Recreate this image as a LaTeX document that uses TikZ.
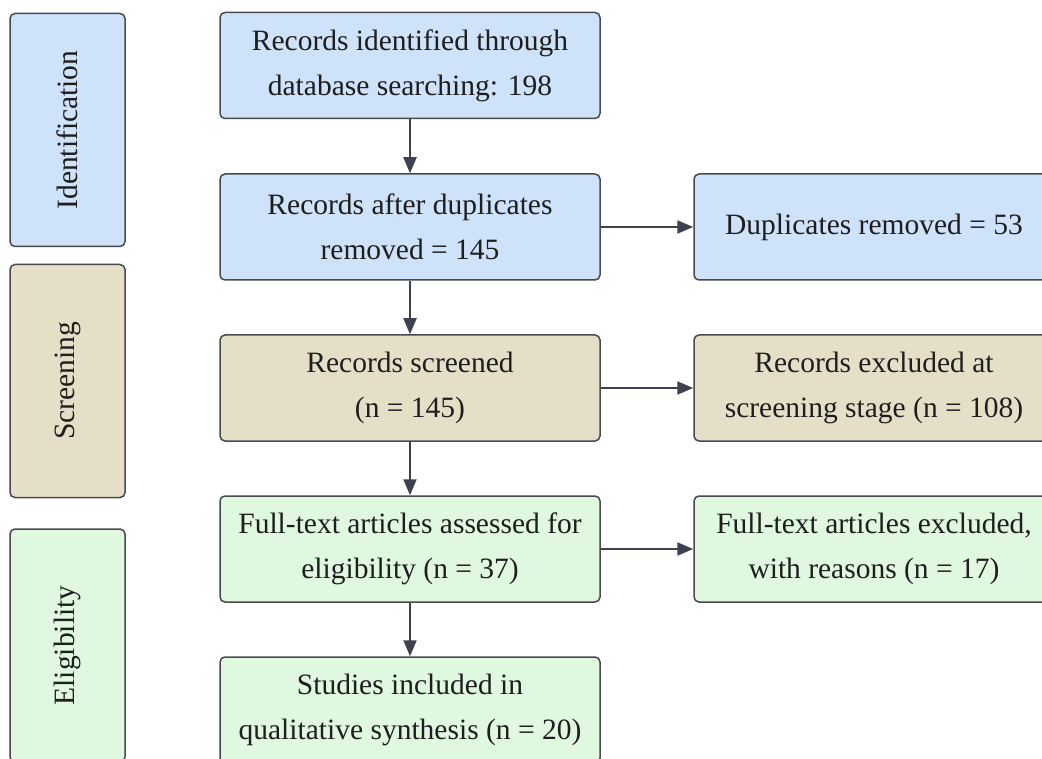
\documentclass[tikz,border=0pt]{standalone}
\usepackage{fontspec}
\setmainfont{Liberation Serif}
\usetikzlibrary{arrows.meta}
\definecolor{idfill}{RGB}{206,226,250}
\definecolor{scfill}{RGB}{230,223,200}
\definecolor{elfill}{RGB}{224,247,224}
\definecolor{boxline}{RGB}{72,74,80}
\definecolor{arrowcol}{RGB}{62,66,80}
\definecolor{txt}{RGB}{30,30,30}
\begin{document}
\begin{tikzpicture}[x=1pt,y=-1pt,
  box/.style={draw=boxline, line width=1.5pt, rounded corners=5pt,
    minimum width=380pt, minimum height=106pt, align=center, inner sep=0pt,
    text=txt, font=\fontsize{29.5}{45}\selectfont},
  sidebox/.style={box, rotate=90, minimum width=233pt, minimum height=115pt},
  rbox/.style={box, minimum width=360pt},
  arr/.style={draw=arrowcol, line width=2pt,
    -{Triangle[length=16pt,width=13pt]}}]
\useasboundingbox (0,0) rectangle (1042,759);
\clip (0,0) rectangle (1042,759);

% phase labels
\node[sidebox, fill=idfill] (sid) at (67.5,130) {Identification};
\node[sidebox, fill=scfill] (ssc) at (67.5,381) {Screening};
\node[sidebox, fill=elfill] (sel) at (67.5,645.5) {Eligibility};

% main column
\node[box, fill=idfill] (b1) at (410,65.5) {Records identified through\\database searching: 198};
\node[box, fill=idfill] (b2) at (410,227) {Records after duplicates\\removed = 145};
\node[box, fill=scfill] (b3) at (410,388) {Records screened\\(n = 145)};
\node[box, fill=elfill] (b4) at (410,549) {Full-text articles assessed for\\eligibility (n = 37)};
\node[box, fill=elfill] (b5) at (410,710) {Studies included in\\qualitative synthesis (n = 20)};

% exclusions
\node[rbox, fill=idfill] (r1) at (874,227) {Duplicates removed = 53};
\node[rbox, fill=scfill] (r2) at (874,388) {Records excluded at\\screening stage (n = 108)};
\node[rbox, fill=elfill] (r3) at (874,549) {Full-text articles excluded,\\with reasons (n = 17)};

% connectors
\draw[arr] (b1) -- (b2);
\draw[arr] (b2) -- (b3);
\draw[arr] (b3) -- (b4);
\draw[arr] (b4) -- (b5);
\draw[arr] (b2) -- (r1);
\draw[arr] (b3) -- (r2);
\draw[arr] (b4) -- (r3);
\end{tikzpicture}
\end{document}
